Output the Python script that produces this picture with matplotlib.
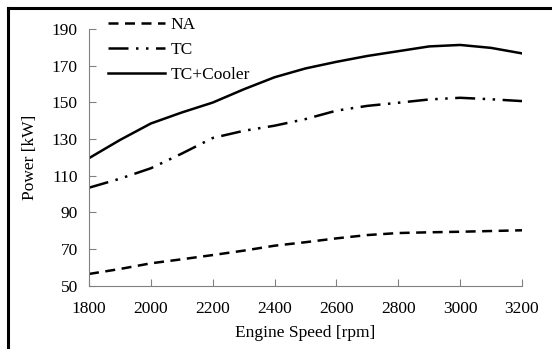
import matplotlib
matplotlib.use("Agg")
import matplotlib.pyplot as plt
from matplotlib.lines import Line2D

speed = [1800, 1900, 2000, 2100, 2200, 2300, 2400, 2500, 2600, 2700, 2800, 2900, 3000, 3100, 3200]
na = [56.4, 59.1, 62.2, 64.4, 66.7, 69.1, 71.8, 73.7, 75.8, 77.6, 78.7, 79.1, 79.4, 79.8, 80.2]
tc = [103.4, 108.3, 114.0, 122.0, 130.5, 134.4, 137.2, 140.8, 145.4, 148.0, 149.7, 151.5, 152.4, 151.6, 150.6]
tc_cooler = [119.5, 129.4, 138.4, 144.4, 149.8, 157.0, 163.6, 168.4, 172.0, 175.2, 177.8, 180.4, 181.2, 179.6, 176.6]
labels = ["NA", "TC", "TC+Cooler"]
xticks = [1800, 2000, 2200, 2400, 2600, 2800, 3000, 3200]
yticks = [50, 70, 90, 110, 130, 150, 170, 190]

plt.rcParams['font.family'] = ['Liberation Serif', 'DejaVu Serif']

W, H = 552, 349
fig = plt.figure(figsize=(W / 100, H / 100), dpi=100)
ax = fig.add_axes([89 / W, 1 - 285.7 / H, (522 - 89) / W, (285.7 - 28.8) / H])

lw = 1.8
ax.plot(speed, na, color='black', lw=lw, dashes=(4, 2.6), label=labels[0],
        solid_joinstyle='round', dash_joinstyle='round')
ax.plot(speed, tc, color='black', lw=lw, dashes=(8, 3, 1, 3, 1, 3), label=labels[1],
        solid_joinstyle='round', dash_joinstyle='round')
ax.plot(speed, tc_cooler, color='black', lw=lw, label=labels[2],
        solid_joinstyle='round', dash_joinstyle='round')

ax.set_xlim(1800, 3200)
ax.set_ylim(50, 190)
ax.set_xticks(xticks)
ax.set_yticks(yticks)
for s in ['top', 'right']:
    ax.spines[s].set_visible(False)
for s in ['left', 'bottom']:
    ax.spines[s].set_color('#808080')
    ax.spines[s].set_linewidth(0.8)
ax.tick_params(axis='both', direction='in', length=5, width=0.8, color='#808080',
               labelsize=12.5)
ax.tick_params(axis='x', pad=11)
ax.tick_params(axis='y', pad=8)

ax.set_xlabel("Engine Speed [rpm]", fontsize=12.5, labelpad=6)
ax.set_ylabel("Power [kW]", fontsize=12.5, labelpad=10)

leg = fig.legend(loc='upper left', bbox_to_anchor=(101 / W, 1 - 10 / H), frameon=False,
                 fontsize=12.5, handlelength=3.3, handletextpad=0.3, labelspacing=0.5,
                 borderaxespad=0)

# outer border (left and top)
fig.add_artist(Line2D([8 / W, 8 / W], [0, 1 - 8 / H], transform=fig.transFigure, color='black', lw=2.2))
fig.add_artist(Line2D([8 / W, 1], [1 - 8 / H, 1 - 8 / H], transform=fig.transFigure, color='black', lw=2.2))

fig.savefig("out.png", dpi=100)
